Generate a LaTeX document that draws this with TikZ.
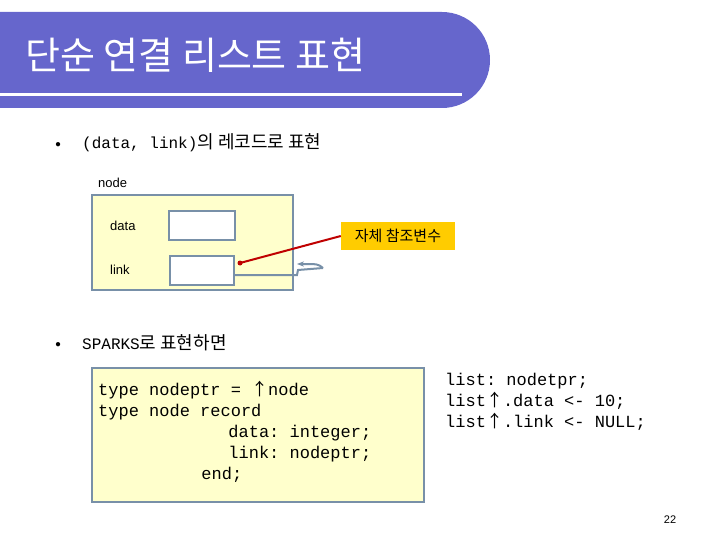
\documentclass[tikz,border=0pt]{standalone}
\usepackage{fontspec}
\setmainfont{Liberation Sans}
\newfontfamily\kr{Noto Sans CJK KR}
\setmonofont{Liberation Mono}
\usetikzlibrary{arrows.meta}
\definecolor{band}{RGB}{102,102,204}
\definecolor{pale}{RGB}{255,255,204}
\definecolor{edge}{RGB}{120,144,168}
\definecolor{lab}{RGB}{255,204,0}
\begin{document}
\begin{tikzpicture}[x=1pt,y=-1pt,
  box/.style={draw=edge,line width=2pt},
  txt/.style={inner sep=0,anchor=west}]
\useasboundingbox (0,0) rectangle (720,540);
\fill[band] (0,12) -- (442,12) arc[start angle=-90,end angle=90,radius=48] -- (0,108) -- cycle;
\draw[white,line width=3pt] (0,95) -- (462,95);
\node[txt,white,font=\kr\fontsize{38}{38}\selectfont] (title) at (25,55) {단순 연결 리스트 표현};
\node[txt,font=\fontsize{10}{10}\selectfont] (b1) at (55,145) {●};
\node[txt,font=\kr\fontsize{18}{18}\selectfont] (t1) at (82,143) {{\ttfamily\fontsize{16}{16}\selectfont(data, link)}의 레코드로 표현};
\node[txt,font=\fontsize{13}{13}\selectfont] (nodelbl) at (98,183) {node};
\draw[box,fill=pale] (92,195) rectangle (293,290);
\node[txt,font=\rmfamily\fontsize{13}{13}\selectfont] (dl) at (110,226) {data};
\node[txt,font=\rmfamily\fontsize{13}{13}\selectfont] (ll) at (110,270) {link};
\node[box,fill=white,minimum width=66,minimum height=29,inner sep=0] (db) at (202,225.5) {};
\node[box,fill=white,minimum width=64,minimum height=29,inner sep=0] (lb) at (202,270.5) {};
\node[fill=lab,minimum width=114,minimum height=27,inner sep=0,font=\kr\fontsize{15}{15}\selectfont] (sr) at (398,236) {자체 참조변수};
\coordinate (dot) at (240,263);
\draw[red!75!black,line width=2pt] (dot) -- (sr.west);
\fill[red!75!black] (dot) circle (2.5);
\coordinate (far) at (323,268);
\draw[edge,line width=2pt] (lb.east|-0,275) -- (297,275) -- (298,270) -- (far);
\draw[edge,line width=2pt,-{Stealth[length=7pt]}] (far) .. controls (318,264) .. (297,264);
\node[txt,font=\fontsize{10}{10}\selectfont] (b2) at (55,345) {●};
\node[txt,font=\kr\fontsize{18}{18}\selectfont] (t2) at (82,343) {{\ttfamily\fontsize{16}{16}\selectfont SPARKS}로 표현하면};
\draw[box,fill=pale] (92,368) rectangle (424,502);
\node[txt,anchor=north west,align=left,font=\ttfamily\fontsize{17}{21}\selectfont] (code) at (98,381) {type nodeptr = {\kr ↑}node\\type node record\\\hspace*{14.5ex}data: integer;\\\hspace*{14.5ex}link: nodeptr;\\\hspace*{11.5ex}end;};
\node[txt,anchor=north west,align=left,font=\ttfamily\fontsize{17}{21}\selectfont] (code2) at (445,373) {list: nodetpr;\\list{\kr ↑}.data <- 10;\\list{\kr ↑}.link <- NULL;};
\node[font=\fontsize{11}{11}\selectfont] (pg) at (670,520) {22};
\end{tikzpicture}
\end{document}
